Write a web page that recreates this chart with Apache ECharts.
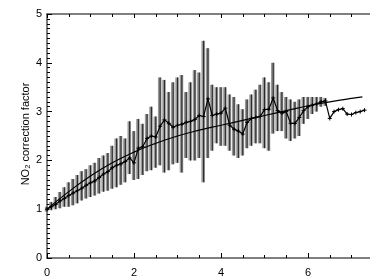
<!DOCTYPE html>
<html>
<head>
<meta charset="utf-8">
<script src="https://cdn.jsdelivr.net/npm/echarts@6/dist/echarts.min.js"></script>
<style>
  html, body { margin: 0; padding: 0; background: #fff; }
  #chart { width: 370px; height: 280px; }
</style>
</head>
<body>
<div id="chart"></div>
<script>
// distance values (x) for the measured ratio
var xVals = [0.0, 0.1, 0.2, 0.3, 0.4, 0.5, 0.6, 0.7, 0.8, 0.9,
  1.0, 1.1, 1.2, 1.3, 1.4, 1.5, 1.6, 1.7, 1.8, 1.9,
  2.0, 2.1, 2.2, 2.3, 2.4, 2.5, 2.6, 2.7, 2.8, 2.9,
  3.0, 3.1, 3.2, 3.3, 3.4, 3.5, 3.6, 3.7, 3.8, 3.9,
  4.0, 4.1, 4.2, 4.3, 4.4, 4.5, 4.6, 4.7, 4.8, 4.9,
  5.0, 5.1, 5.2, 5.3, 5.4, 5.5, 5.6, 5.7, 5.8, 5.9,
  6.0, 6.1, 6.2, 6.3, 6.4, 6.5, 6.6, 6.7, 6.8, 6.9,
  7.0, 7.1, 7.2, 7.3];

// measured correction factor (black line with crosses)
var ratio = [1.00, 1.05, 1.10, 1.17, 1.22, 1.28, 1.33, 1.38, 1.43, 1.49,
  1.54, 1.58, 1.65, 1.72, 1.77, 1.85, 1.90, 1.93, 1.98, 2.05,
  1.95, 2.25, 2.28, 2.45, 2.50, 2.48, 2.70, 2.83, 2.76, 2.68,
  2.72, 2.74, 2.78, 2.80, 2.84, 2.92, 2.90, 3.26, 2.92, 2.95,
  2.97, 3.07, 2.72, 2.64, 2.60, 2.54, 2.78, 2.86, 2.88, 2.90,
  3.04, 3.05, 3.28, 3.02, 2.97, 3.00, 2.76, 2.76, 2.88, 3.02,
  3.10, 3.13, 3.16, 3.20, 3.22, 2.86, 3.00, 3.04, 3.06, 2.95,
  2.94, 2.98, 3.00, 3.03];

// error bar limits (gray bars), for x = 0.0 .. 6.4
var errLow = [0.95, 0.98, 1.00, 1.02, 1.05, 1.05, 1.08, 1.12, 1.18, 1.22,
  1.25, 1.28, 1.32, 1.36, 1.38, 1.42, 1.45, 1.50, 1.55, 1.72,
  1.60, 1.62, 1.70, 1.78, 1.80, 1.85, 1.90, 1.75, 1.80, 1.92,
  1.95, 1.75, 2.05, 2.00, 2.00, 2.05, 1.55, 2.05, 2.20, 2.35,
  2.30, 2.30, 2.20, 2.10, 2.05, 2.10, 2.25, 2.30, 2.35, 2.35,
  2.25, 2.20, 2.55, 2.60, 2.60, 2.45, 2.40, 2.45, 2.50, 2.75,
  2.85, 2.95, 3.00, 3.10, 3.12];
var errHigh = [1.05, 1.15, 1.25, 1.35, 1.45, 1.55, 1.62, 1.70, 1.78, 1.82,
  1.90, 1.95, 2.05, 2.10, 2.15, 2.30, 2.45, 2.50, 2.45, 2.80,
  2.60, 2.85, 2.75, 2.95, 3.10, 2.90, 3.70, 3.65, 3.40, 3.60,
  3.70, 3.75, 3.40, 3.60, 3.85, 3.80, 4.45, 4.30, 3.55, 3.50,
  3.50, 3.50, 3.35, 3.30, 3.15, 3.05, 3.25, 3.35, 3.45, 3.55,
  3.70, 3.60, 4.00, 3.55, 3.40, 3.30, 3.25, 3.20, 3.25, 3.30,
  3.30, 3.30, 3.30, 3.30, 3.28];

// smooth fitted curve
var fitX = [0.0, 0.5, 1.0, 1.5, 2.0, 2.5, 3.0, 3.5, 4.0, 4.5, 5.0, 5.5, 6.0, 6.5, 7.0, 7.25];
var fitY = [1.00, 1.36, 1.68, 1.95, 2.17, 2.35, 2.50, 2.62, 2.72, 2.82, 2.92, 3.02, 3.12, 3.20, 3.27, 3.30];

var errData = [];
for (var i = 0; i < errLow.length; i++) {
  errData.push([xVals[i], errLow[i], errHigh[i]]);
}
var ratioData = [];
for (var j = 0; j < ratio.length; j++) {
  ratioData.push([xVals[j], ratio[j]]);
}
var fitData = [];
for (var k = 0; k < fitX.length; k++) {
  fitData.push([fitX[k], fitY[k]]);
}

var chart = echarts.init(document.getElementById('chart'));

var axisLineStyle = { color: '#555', width: 1.5 };
var fontFam = 'Liberation Sans, Arial, sans-serif';

var option = {
  animation: false,
  grid: { left: 47, top: 14, width: 348, height: 244, outerBoundsMode: 'none', containLabel: false },
  graphic: [
    {
      type: 'text',
      x: 26, y: 134,
      rotation: Math.PI / 2,
      style: {
        text: 'NO₂ correction factor',
        fill: '#000',
        font: '11px ' + fontFam,
        align: 'center',
        verticalAlign: 'middle'
      }
    }
  ],
  xAxis: [
    {
      type: 'value', position: 'bottom', min: 0, max: 8, interval: 2,
      axisLine: { lineStyle: axisLineStyle },
      axisTick: { inside: true, length: 5, lineStyle: { color: '#000' } },
      minorTick: { show: true, splitNumber: 4, length: 3, lineStyle: { color: '#000' } },
      splitLine: { show: false },
      axisLabel: {
        color: '#000', fontSize: 11, fontFamily: fontFam, margin: 9,
        formatter: function (v) { return (v % 2 === 0 && v < 7.5) ? String(v) : ''; }
      }
    },
    {
      type: 'value', position: 'top', min: 0, max: 8, interval: 2,
      axisLine: { lineStyle: axisLineStyle },
      axisTick: { inside: true, length: 4, lineStyle: { color: '#000' } },
      minorTick: { show: true, splitNumber: 4, length: 3, lineStyle: { color: '#000' } },
      splitLine: { show: false },
      axisLabel: { show: false }
    }
  ],
  yAxis: {
    type: 'value', min: 0, max: 5, interval: 1,
    axisLine: { lineStyle: axisLineStyle },
    axisTick: { inside: true, length: 5, lineStyle: { color: '#000' } },
    minorTick: { show: true, splitNumber: 10, length: 3, lineStyle: { color: '#000' } },
    splitLine: { show: false },
    axisLabel: { color: '#000', fontSize: 11, fontFamily: fontFam, margin: 5 }
  },
  series: [
    {
      type: 'custom',
      data: errData,
      z: 1,
      renderItem: function (params, api) {
        var x = api.value(0);
        var pLo = api.coord([x, api.value(1)]);
        var pHi = api.coord([x, api.value(2)]);
        var w = api.size([0.1, 0])[0];
        return {
          type: 'group',
          children: [
            {
              type: 'rect',
              shape: { x: pLo[0] - w / 2, y: pHi[1], width: w - 0.8, height: pLo[1] - pHi[1] },
              style: { fill: '#999' }
            },
            {
              type: 'line',
              shape: { x1: pLo[0], y1: pLo[1], x2: pHi[0], y2: pHi[1] },
              style: { stroke: '#2a2a2a', lineWidth: 1.1 }
            }
          ]
        };
      }
    },
    {
      type: 'line',
      data: ratioData,
      z: 3,
      symbol: 'path://M0,4H8M4,0V8',
      symbolSize: 4,
      itemStyle: { color: 'transparent', borderColor: '#000', borderWidth: 1 },
      lineStyle: { color: '#000', width: 1.2 }
    },
    {
      type: 'line',
      data: fitData,
      z: 4,
      smooth: true,
      symbol: 'none',
      lineStyle: { color: '#000', width: 1.2 }
    }
  ]
};

chart.setOption(option);
</script>
</body>
</html>
